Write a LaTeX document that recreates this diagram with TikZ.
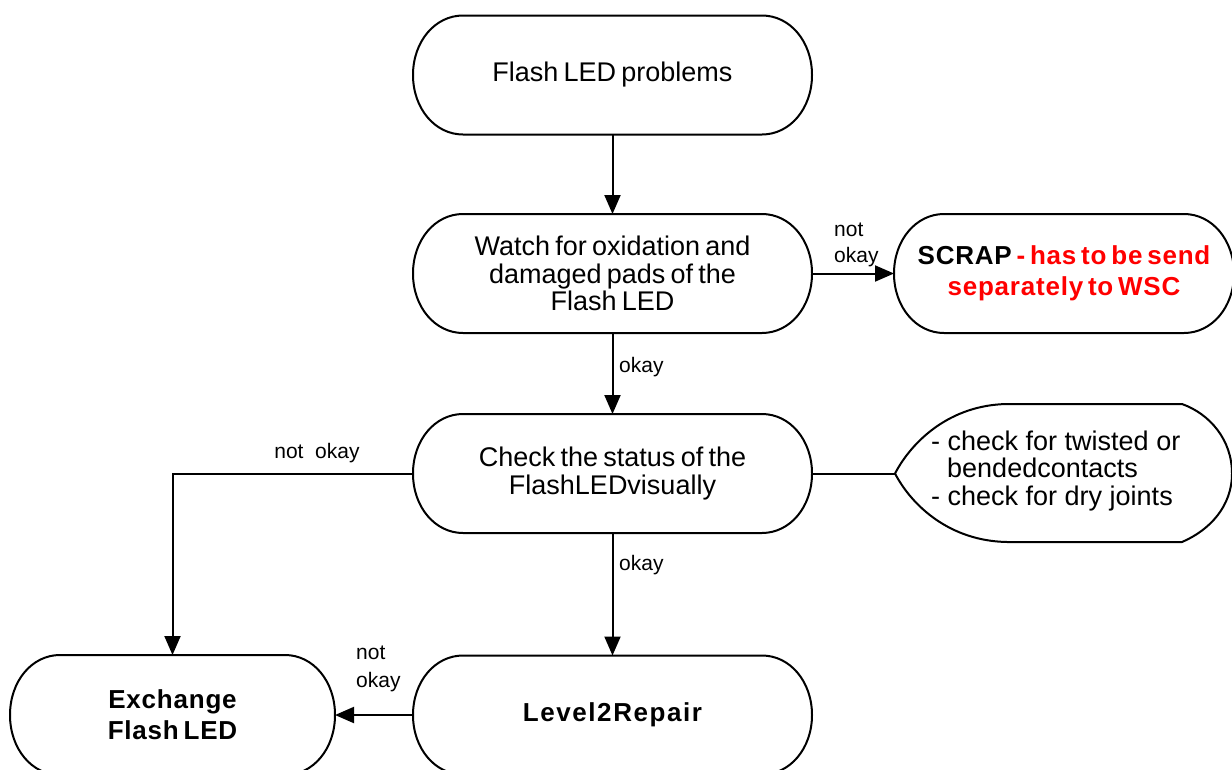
\documentclass[tikz,border=0pt]{standalone}
\usepackage{fontspec}
\setmainfont{Liberation Sans}
\newfontfamily\tightfont{Liberation Sans}[WordSpace=0.7]
\newfontfamily\spacedbold{Liberation Sans}[LetterSpace=3,WordSpace=0.6]
\newfontfamily\widebold{Liberation Sans}[LetterSpace=6,WordSpace=0.6]
\usetikzlibrary{arrows.meta}
\definecolor{scrapred}{RGB}{255,0,0}
\newcommand\roundbox[1]{%
  \draw[outl] ([xshift=50pt]#1.north west) -- ([xshift=-50pt]#1.north east)
    .. controls ([xshift=-22pt]#1.north east) and ([yshift=-26pt]#1.north east) .. (#1.east)
    .. controls ([yshift=26pt]#1.south east) and ([xshift=-22pt]#1.south east) .. ([xshift=-50pt]#1.south east)
    -- ([xshift=50pt]#1.south west)
    .. controls ([xshift=22pt]#1.south west) and ([yshift=26pt]#1.south west) .. (#1.west)
    .. controls ([yshift=-26pt]#1.north west) and ([xshift=22pt]#1.north west) .. cycle;}
\begin{document}
\begin{tikzpicture}[x=1pt,y=-1pt,
  outl/.style={line width=2pt, line join=round},
  box/.style={minimum width=399pt, minimum height=119pt, inner sep=0pt, outer sep=0pt, align=center,
    font=\tightfont\fontsize{27}{27.5}\selectfont},
  boldbox/.style={box, font=\spacedbold\bfseries\fontsize{26}{31}\selectfont},
  lbl/.style={inner sep=0pt, font=\fontsize{21}{27}\selectfont, align=left},
  arr/.style={line width=2pt, -{Triangle[length=19pt,width=16pt]}},
  con/.style={line width=2pt}]
\useasboundingbox (0,0) rectangle (1232,769);

\node[box] (start) at (612.5,75) {Flash LED problems};
\node[box] (watch) at (612.5,273.5) {Watch for oxidation and\\damaged pads of the\\Flash LED};
\node[boldbox, minimum width=340pt] (scrap) at (1064,273.5)
  {SCRAP \textcolor{scrapred}{- has to be send}\\\textcolor{scrapred}{separately to WSC}};
\node[box] (check) at (612.5,473.5) {Check the status of the\\FlashLEDvisually};
\node[boldbox, font=\widebold\bfseries\fontsize{26}{31}\selectfont] (level) at (612.5,715) {Level2Repair};
\node[boldbox, minimum width=325pt, minimum height=120pt] (exch) at (172.5,715) {Exchange\\Flash LED};

\foreach \n in {start,watch,scrap,check,level,exch} {\roundbox{\n}}

% side note shape
\coordinate (noteL) at (895,473.5);
\draw[outl] (noteL) .. controls (912,441) and (950,405) .. (1007,404) -- (1182,404)
  .. controls (1210,414) and (1232,440) .. (1232,473.5)
  .. controls (1232,506) and (1210,530) .. (1182,542) -- (1007,542)
  .. controls (950,541) and (912,506) .. cycle;
\node[inner sep=0pt, anchor=west, align=left, font=\fontsize{27}{27.5}\selectfont] (note) at (931,471)
  {- check for twisted or\\\hspace*{16pt}bendedcontacts\\- check for dry joints};

% connectors
\draw[arr] (start.south) -- (watch.north);
\draw[arr] (watch.south) -- (check.north);
\draw[arr] (watch.east) -- (scrap.west);
\draw[con] (check.east) -- (noteL);
\draw[arr] (check.west) -| (exch.north);
\draw[arr] (check.south) -- (level.north);
\draw[arr] (level.west) -- (exch.east);

% labels
\node[lbl, anchor=west] (l1) at (619,367) {okay};
\node[lbl, anchor=west] (l2) at (619,565) {okay};
\node[lbl, anchor=west, font=\fontsize{21}{26}\selectfont] (l3) at (834,245) {not\\okay};
\node[lbl] (l4) at (317,453) {not\ \ okay};
\node[lbl, anchor=west, font=\fontsize{21}{28}\selectfont] (l5) at (356,669) {not\\okay};
\end{tikzpicture}
\end{document}
